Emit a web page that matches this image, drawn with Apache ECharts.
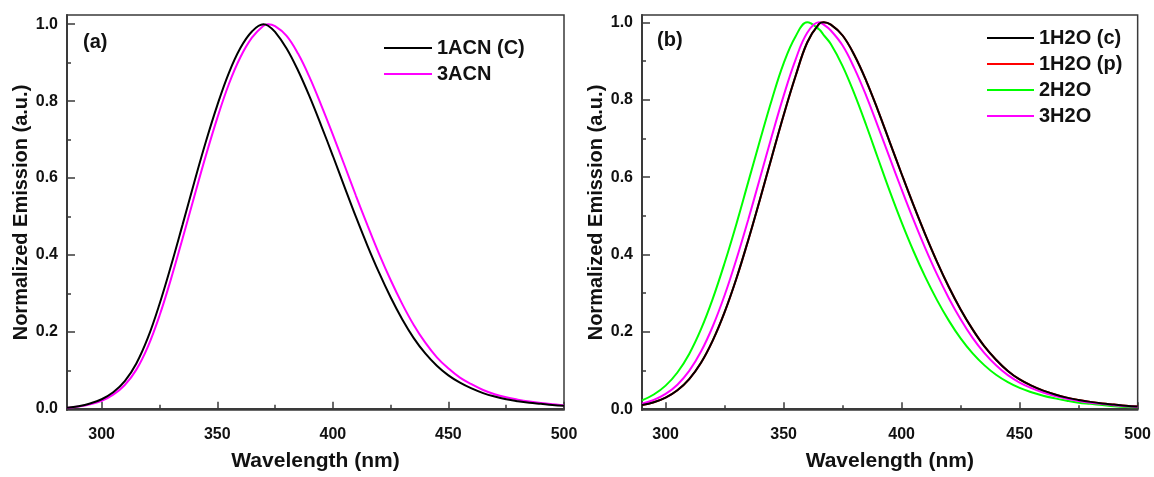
<!DOCTYPE html>
<html>
<head>
<meta charset="utf-8">
<title>Normalized Emission</title>
<script src="https://cdn.jsdelivr.net/npm/echarts@6/dist/echarts.min.js"></script>
<style>
  html, body { margin: 0; padding: 0; background: #ffffff; }
  #chart { width: 1154px; height: 477px; }
</style>
</head>
<body>
<div id="chart"></div>
<script>
// Panel (a): wavelengths (nm) and normalized emission
const wavelengthA = [285, 290, 295, 300, 305, 310, 315, 320, 325, 330,
  335, 340, 345, 350, 355, 360, 365, 370, 372, 375, 380,
  385, 390, 395, 400, 405, 410, 415, 420, 425, 430,
  435, 440, 445, 450, 455, 460, 465, 470, 475, 480,
  485, 490, 495, 500];
const acn1C = [0.003, 0.007, 0.014, 0.025, 0.043, 0.072, 0.118, 0.185, 0.272, 0.372,
  0.479, 0.588, 0.693, 0.789, 0.873, 0.938, 0.981, 1.0, 0.996, 0.98, 0.937,
  0.879, 0.811, 0.736, 0.658, 0.578, 0.499, 0.424, 0.354, 0.29, 0.233,
  0.184, 0.144, 0.112, 0.087, 0.068, 0.053, 0.041, 0.032, 0.025, 0.02,
  0.016, 0.013, 0.01, 0.008];
const acn3 = [0.002, 0.006, 0.012, 0.021, 0.037, 0.062, 0.102, 0.162, 0.242, 0.338,
  0.443, 0.551, 0.657, 0.756, 0.844, 0.914, 0.965, 0.996, 1.0, 0.995, 0.97,
  0.923, 0.861, 0.789, 0.713, 0.634, 0.554, 0.477, 0.403, 0.335, 0.273,
  0.218, 0.172, 0.134, 0.105, 0.081, 0.064, 0.049, 0.038, 0.03, 0.024,
  0.019, 0.015, 0.012, 0.009];

// Panel (b): wavelengths (nm) and normalized emission
const wavelengthB = [290, 295, 300, 305, 310, 315, 320, 325, 330, 335,
  340, 345, 350, 355, 360, 365, 367, 370, 375, 380, 385,
  390, 395, 400, 405, 410, 415, 420, 425, 430, 435,
  440, 445, 450, 455, 460, 465, 470, 475, 480, 485,
  490, 495, 500];
const h2o1c = [0.011, 0.018, 0.03, 0.049, 0.078, 0.12, 0.178, 0.251, 0.338, 0.437,
  0.543, 0.652, 0.76, 0.86, 0.948, 0.996, 1.0, 0.994, 0.966, 0.915, 0.849,
  0.772, 0.69, 0.608, 0.528, 0.452, 0.381, 0.316, 0.258, 0.207, 0.163,
  0.128, 0.099, 0.077, 0.061, 0.048, 0.038, 0.03, 0.024, 0.019, 0.015,
  0.012, 0.009, 0.007];
const h2o1p = [0.011, 0.018, 0.03, 0.049, 0.078, 0.12, 0.178, 0.251, 0.338, 0.437,
  0.543, 0.652, 0.76, 0.86, 0.948, 0.996, 1.0, 0.994, 0.966, 0.915, 0.849,
  0.772, 0.69, 0.608, 0.528, 0.452, 0.381, 0.316, 0.258, 0.207, 0.163,
  0.128, 0.099, 0.077, 0.061, 0.048, 0.038, 0.03, 0.024, 0.019, 0.015,
  0.012, 0.009, 0.007];
const h2o2 = [0.023, 0.038, 0.061, 0.095, 0.143, 0.207, 0.286, 0.378, 0.479, 0.587,
  0.695, 0.80, 0.894, 0.963, 1.0, 0.982, 0.967, 0.944, 0.887, 0.815, 0.734,
  0.648, 0.563, 0.483, 0.409, 0.342, 0.282, 0.229, 0.183, 0.145, 0.114,
  0.089, 0.07, 0.055, 0.044, 0.035, 0.028, 0.022, 0.017, 0.014, 0.011,
  0.008, 0.006, 0.005];
const h2o3 = [0.0145, 0.024, 0.0395, 0.0635, 0.099, 0.149, 0.2145, 0.2945, 0.3875, 0.49,
  0.5975, 0.706, 0.81, 0.9025, 0.973, 1.0, 0.994, 0.979, 0.94, 0.881, 0.81,
  0.7305, 0.649, 0.568, 0.49, 0.4165, 0.3485, 0.287, 0.2325, 0.185, 0.1455,
  0.1135, 0.088, 0.069, 0.0545, 0.043, 0.034, 0.027, 0.0215, 0.017, 0.0135,
  0.0105, 0.008, 0.006];

// Axis tick labels
const xMajorTicks = [300, 350, 400, 450, 500];
const xMinorTicks = [325, 375, 425, 475];
const yMajorTicks = [0.0, 0.2, 0.4, 0.6, 0.8, 1.0];
const yMinorTicks = [0.1, 0.3, 0.5, 0.7, 0.9];

const FONT = "'Liberation Sans', Arial, Helvetica, sans-serif";
const AXIS_COLOR = '#3a3a3a';

function pairs(xs, ys) {
  return xs.map((x, i) => [x, ys[i]]);
}

function xAxes(gridIndex, min, max) {
  return [
    {
      type: 'value', gridIndex, min, max,
      name: 'Wavelength (nm)', nameLocation: 'middle', nameGap: 41,
      nameTextStyle: { fontFamily: FONT, fontSize: 21, fontWeight: 'bold', color: '#111' },
      axisLine: { show: true, lineStyle: { color: AXIS_COLOR, width: 2 } },
      axisTick: { show: true, inside: true, length: 7, customValues: xMajorTicks,
        lineStyle: { color: AXIS_COLOR, width: 1.5 } },
      axisLabel: { show: true, customValues: xMajorTicks, margin: 17,
        fontFamily: FONT, fontSize: 16, fontWeight: 'bold', color: '#111' },
      splitLine: { show: false }
    },
    {
      type: 'value', gridIndex, min, max, position: 'bottom',
      axisLine: { show: false },
      axisTick: { show: true, inside: true, length: 4, customValues: xMinorTicks,
        lineStyle: { color: AXIS_COLOR, width: 1.5 } },
      axisLabel: { show: false },
      splitLine: { show: false }
    }
  ];
}

function yAxes(gridIndex, min, max) {
  return [
    {
      type: 'value', gridIndex, min, max,
      name: 'Normalized Emission (a.u.)', nameLocation: 'middle', nameGap: 36,
      nameTextStyle: { fontFamily: FONT, fontSize: 20, fontWeight: 'bold', color: '#111' },
      axisLine: { show: true, lineStyle: { color: AXIS_COLOR, width: 2 } },
      axisTick: { show: true, inside: true, length: 8, customValues: yMajorTicks,
        lineStyle: { color: AXIS_COLOR, width: 1.5 } },
      axisLabel: { show: true, customValues: yMajorTicks, margin: 9,
        formatter: v => v.toFixed(1),
        fontFamily: FONT, fontSize: 16, fontWeight: 'bold', color: '#111' },
      splitLine: { show: false }
    },
    {
      type: 'value', gridIndex, min, max, position: 'left',
      axisLine: { show: false },
      axisTick: { show: true, inside: true, length: 4, customValues: yMinorTicks,
        lineStyle: { color: AXIS_COLOR, width: 1.5 } },
      axisLabel: { show: false },
      splitLine: { show: false }
    }
  ];
}

function line(name, xs, ys, color, xi, yi, z) {
  return {
    name, type: 'line', xAxisIndex: xi, yAxisIndex: yi,
    data: pairs(xs, ys), smooth: 0.4, symbol: 'none', z,
    lineStyle: { color, width: 2 }, itemStyle: { color },
    emphasis: { disabled: true }, silent: true
  };
}

const legendText = { fontFamily: FONT, fontSize: 20, fontWeight: 'bold', color: '#111', lineHeight: 20 };

const option = {
  backgroundColor: '#ffffff',
  animation: false,
  title: [
    { text: '(a)', left: 83, top: 32, padding: 0,
      textStyle: { fontFamily: FONT, fontSize: 20, fontWeight: 'bold', color: '#111' } },
    { text: '(b)', left: 657, top: 30, padding: 0,
      textStyle: { fontFamily: FONT, fontSize: 20, fontWeight: 'bold', color: '#111' } }
  ],
  legend: [
    { left: 384, top: 38, orient: 'vertical', icon: 'rect', itemWidth: 48, itemHeight: 2, itemGap: 6,
      padding: 0, selectedMode: false, textStyle: legendText,
      data: ['1ACN (C)', '3ACN'] },
    { left: 987, top: 28, orient: 'vertical', icon: 'rect', itemWidth: 47, itemHeight: 2, itemGap: 6,
      padding: 0, selectedMode: false, textStyle: legendText,
      data: ['1H2O (c)', '1H2O (p)', '2H2O', '3H2O'] }
  ],
  grid: [
    { left: 67, top: 15, width: 497, height: 400, show: true,
      borderColor: AXIS_COLOR, borderWidth: 1.5, containLabel: false },
    { left: 642, top: 15, width: 497, height: 400, show: true,
      borderColor: AXIS_COLOR, borderWidth: 1.5, containLabel: false }
  ],
  xAxis: [...xAxes(0, 285, 500), ...xAxes(1, 290, 500)],
  yAxis: [...yAxes(0, -0.003, 1.024), ...yAxes(1, -0.002, 1.019)],
  series: [
    line('1ACN (C)', wavelengthA, acn1C, '#000000', 0, 0, 3),
    line('3ACN', wavelengthA, acn3, '#ff00ff', 0, 0, 2),
    line('1H2O (p)', wavelengthB, h2o1p, '#ff0000', 2, 2, 1),
    line('2H2O', wavelengthB, h2o2, '#00ff00', 2, 2, 2),
    line('3H2O', wavelengthB, h2o3, '#ff00ff', 2, 2, 3),
    line('1H2O (c)', wavelengthB, h2o1c, '#000000', 2, 2, 4)
  ]
};

const chart = echarts.init(document.getElementById('chart'), null, { renderer: 'canvas' });
chart.setOption(option);
</script>
</body>
</html>
